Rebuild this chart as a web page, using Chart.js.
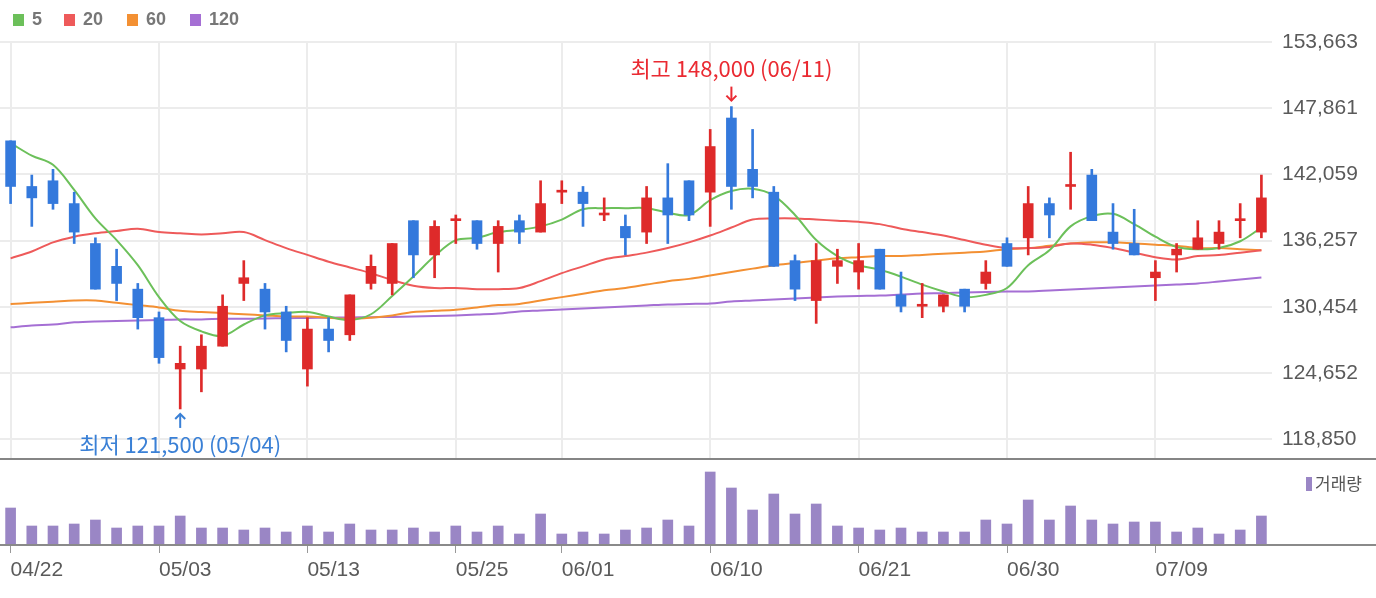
<!DOCTYPE html>
<html>
<head>
<meta charset="utf-8">
<script src="https://cdn.jsdelivr.net/npm/chart.js"></script>
<style>
  html, body { margin: 0; padding: 0; background: #fff; }
  #wrap { position: relative; width: 1376px; height: 598px; overflow: hidden; }
  #price { position: absolute; left: 0; top: 0; }
  #vol { position: absolute; left: 0; top: 460px; }
</style>
</head>
<body>
<div id="wrap">
  <canvas id="price" width="1376" height="460"></canvas>
  <canvas id="vol" width="1376" height="138"></canvas>
</div>
<script>
// trading days (2021)
const dates = ['04/22','04/23','04/26','04/27','04/28','04/29','04/30','05/03','05/04','05/06',
  '05/07','05/10','05/11','05/12','05/13','05/14','05/17','05/18','05/20','05/21',
  '05/24','05/25','05/26','05/27','05/28','05/31','06/01','06/02','06/03','06/04',
  '06/07','06/08','06/09','06/10','06/11','06/14','06/15','06/16','06/17','06/18',
  '06/21','06/22','06/23','06/24','06/25','06/28','06/29','06/30','07/01','07/02',
  '07/05','07/06','07/07','07/08','07/09','07/12','07/13','07/14','07/15','07/16'];

const xTickLabels = ['04/22','05/03','05/13','05/25','06/01','06/10','06/21','06/30','07/09'];
const priceTicks = [118850, 124652, 130454, 136257, 142059, 147861, 153663];

const opens = [145000,141000,141500,139500,136000,134000,132000,129500,125000,125000,
  127000,132500,132000,130000,125000,128500,128000,132500,132500,138000,
  135000,138000,138000,136000,138000,137000,140500,140500,138500,137500,
  137000,140000,141500,140500,147000,142500,140500,134500,131000,134000,
  133500,135500,131500,130500,130500,132000,132500,136000,136500,139500,
  141000,142000,137000,136000,133000,135000,135500,136000,138000,137000];
const highs = [145000,142000,142500,140500,136500,135500,132500,130000,127000,128000,
  131500,134500,132500,130500,129500,129500,131500,135000,136000,138000,
  138000,138500,138000,138000,138500,141500,141500,141000,140000,138500,
  141000,143000,141500,146000,148000,146000,141000,135000,136000,135500,
  136000,135500,133500,132500,131500,132000,134500,136500,141000,140000,
  144000,142500,139500,139000,134500,136000,138000,138000,139500,142000];
const lows = [139500,137500,139000,136000,132000,131000,128500,125500,121500,123000,
  127000,131000,128500,126500,123500,126500,127500,132000,131500,133000,
  133000,136000,135500,133500,136000,137000,139500,137500,138000,135000,
  136000,136000,138000,137500,139000,140000,134000,131000,129000,132500,
  132000,132000,130000,129500,130000,130000,132000,134000,135000,136500,
  139000,138000,135500,135000,131000,133500,135500,135500,136500,136500];
const closes = [141000,140000,139500,137000,132000,132500,129500,126000,125500,127000,
  130500,133000,130000,127500,128500,127500,131500,134000,136000,135000,
  137500,138000,136000,137500,137000,139500,140500,139500,138500,136500,
  140000,138500,138500,144500,141000,141000,134000,132000,134500,134500,
  134500,132000,130500,130500,131500,130500,133500,134000,139500,138500,
  141000,138000,136000,135000,133500,135500,136500,137000,138000,140000];

// moving averages as drawn
const ma5 = [144800,143700,142900,140700,138200,136300,134100,131300,129200,128300,
  127900,128900,129700,129900,130000,129600,129300,129800,131400,133100,
  134900,136300,136500,137000,137200,137500,138100,139000,139100,139100,
  139100,138700,138500,139800,140600,140800,140200,138500,136300,134900,
  134100,133700,133100,132400,131800,131300,131500,132100,134100,135400,
  137500,138400,138600,137700,136600,135700,135500,135600,136200,137400];
const ma20 = [134700,135300,136100,136600,136900,137100,137300,137000,136900,136800,
  136900,137000,136300,135600,135000,134400,133900,133400,132800,132300,
  132100,132100,132000,132000,132100,132700,133400,134000,134600,134900,
  135200,135600,136100,136700,137400,138100,138200,138200,138100,138000,
  137900,137700,137300,137000,136700,136300,135900,135600,135600,135700,
  136000,135900,135600,135200,134800,134600,134900,135000,135200,135400];
const ma60 = [130700,130800,130900,131000,131000,130800,130600,130400,130100,130000,
  129900,129800,129700,129600,129600,129500,129400,129500,129700,130000,
  130100,130200,130400,130600,130700,131000,131300,131600,131900,132100,
  132400,132700,132900,133200,133500,133800,134100,134300,134500,134700,
  134800,134900,134900,135000,135100,135200,135300,135500,135600,135800,
  136000,136100,136100,136000,135900,135800,135600,135600,135500,135400];
const ma120 = [128650,128820,128910,129090,129170,129200,129260,129300,129350,129350,
  129400,129400,129430,129450,129480,129500,129520,129540,129560,129610,
  129650,129700,129780,129870,130050,130130,130220,130310,130400,130480,
  130570,130660,130700,130750,130920,131010,131100,131180,131270,131350,
  131400,131440,131530,131620,131650,131710,131750,131790,131800,131880,
  131970,132060,132150,132230,132320,132410,132500,132670,132850,133020];

// volume, thousand shares
const volumes = [370,190,190,210,250,170,190,190,290,170,
  170,150,170,130,190,130,210,150,150,170,
  130,190,130,190,110,310,110,130,110,150,
  170,250,190,730,570,350,510,310,410,190,
  170,150,170,130,130,130,250,210,450,250,
  390,250,210,230,230,130,170,110,150,290];

const maNames = ['5', '20', '60', '120'];
const maColors = ['#6cc05a', '#ee5a5a', '#f39033', '#a56fd4'];
const UP = '#de2a2a', DOWN = '#3479dc';
const VOL = '#9a86c5';

const tickIdx = xTickLabels.map(d => dates.indexOf(d));
const hiIdx = highs.indexOf(Math.max(...highs));
const loIdx = lows.indexOf(Math.min(...lows));
const fmt = v => Math.round(v).toLocaleString('en-US');
const krFont = '"Noto Sans CJK KR", sans-serif';
const numFont = '"Liberation Sans", Arial, sans-serif';

const candleColor = ctx => closes[ctx.dataIndex] >= opens[ctx.dataIndex] ? UP : DOWN;

function drawArrow(ctx, x, tip, dir) {
  // dir 1 = pointing down, -1 = pointing up
  ctx.beginPath();
  ctx.moveTo(x, tip - dir * 14);
  ctx.lineTo(x, tip);
  ctx.stroke();
  ctx.beginPath();
  ctx.moveTo(x - 5, tip - dir * 5);
  ctx.lineTo(x, tip);
  ctx.lineTo(x + 5, tip - dir * 5);
  ctx.stroke();
}

const priceOverlay = {
  id: 'priceOverlay',
  afterDraw(chart) {
    const ctx = chart.ctx;
    const xs = chart.scales.x, ys = chart.scales.y;
    ctx.save();

    // MA legend
    const legendX = [13, 64, 127, 190];
    ctx.font = 'bold 18px ' + numFont;
    ctx.textBaseline = 'middle';
    ctx.textAlign = 'left';
    maNames.forEach((n, i) => {
      ctx.fillStyle = maColors[i];
      ctx.fillRect(legendX[i], 14, 11, 12);
      ctx.fillStyle = '#777';
      ctx.fillText(n, legendX[i] + 19, 20);
    });

    // high / low marks
    ctx.lineWidth = 2;
    ctx.textAlign = 'center';
    ctx.font = '22px ' + krFont;

    const hx = xs.getPixelForValue(hiIdx), hy = ys.getPixelForValue(highs[hiIdx]);
    ctx.strokeStyle = ctx.fillStyle = '#ea2a32';
    drawArrow(ctx, hx, hy - 6, 1);
    ctx.fillText('최고 ' + fmt(highs[hiIdx]) + ' (' + dates[hiIdx] + ')', hx, hy - 38);

    const lx = xs.getPixelForValue(loIdx), ly = ys.getPixelForValue(lows[loIdx]);
    ctx.strokeStyle = ctx.fillStyle = '#3a80d6';
    drawArrow(ctx, lx, ly + 5, -1);
    ctx.fillText('최저 ' + fmt(lows[loIdx]) + ' (' + dates[loIdx] + ')', lx, ly + 36);

    // separator under price panel
    ctx.fillStyle = '#858585';
    ctx.fillRect(0, chart.chartArea.bottom, chart.width, 2);
    ctx.restore();
  }
};

const volOverlay = {
  id: 'volOverlay',
  afterDraw(chart) {
    const ctx = chart.ctx;
    ctx.save();
    ctx.fillStyle = '#8a8a8a';
    ctx.fillRect(0, chart.chartArea.bottom - 1, chart.width, 2);
    ctx.fillStyle = VOL;
    ctx.fillRect(1306, 17, 6, 14);
    ctx.fillStyle = '#555';
    ctx.font = '17px ' + krFont;
    ctx.textBaseline = 'middle';
    ctx.fillText('거래량', 1315, 24);
    ctx.restore();
  }
};

const lineDs = (data, i) => ({
  type: 'line',
  label: maNames[i],
  data: data,
  borderColor: maColors[i],
  borderWidth: 2,
  pointRadius: 0,
  tension: 0.35,
  order: 2 + i
});

new Chart(document.getElementById('price'), {
  type: 'bar',
  data: {
    labels: dates,
    datasets: [
      {
        label: 'body',
        data: opens.map((o, i) => [o, closes[i]]),
        backgroundColor: candleColor,
        barThickness: 10,
        minBarLength: 2,
        grouped: false,
        order: 0
      },
      {
        label: 'wick',
        data: lows.map((l, i) => [l, highs[i]]),
        backgroundColor: candleColor,
        barThickness: 2,
        grouped: false,
        order: 1
      },
      lineDs(ma5, 0), lineDs(ma20, 1), lineDs(ma60, 2), lineDs(ma120, 3)
    ]
  },
  options: {
    responsive: false,
    animation: false,
    events: [],
    layout: { padding: { top: 42, bottom: 2, left: 0, right: 0 } },
    plugins: { legend: { display: false }, tooltip: { enabled: false } },
    scales: {
      x: {
        type: 'category',
        offset: true,
        grid: {
          offset: false,
          drawTicks: false,
          lineWidth: 2,
          color: ctx => tickIdx.includes(ctx.index) ? '#ececec' : 'rgba(0,0,0,0)'
        },
        border: { display: false },
        ticks: { display: false },
        afterFit: s => { s.height = 0; s.paddingLeft = 0; s.paddingRight = 0; }
      },
      y: {
        position: 'right',
        min: 117200,
        max: 153663,
        afterBuildTicks: s => { s.ticks = priceTicks.map(v => ({ value: v })); },
        grid: { drawTicks: false, lineWidth: 2, color: '#ececec' },
        border: { display: false },
        ticks: {
          padding: 10,
          color: '#5a5a5a',
          font: { family: numFont, size: 21 },
          callback: v => fmt(v)
        },
        afterFit: s => { s.width = 104; s.paddingTop = 0; s.paddingBottom = 0; }
      }
    }
  },
  plugins: [priceOverlay]
});

new Chart(document.getElementById('vol'), {
  type: 'bar',
  data: {
    labels: dates,
    datasets: [{
      label: '거래량',
      data: volumes,
      backgroundColor: VOL,
      barThickness: 10
    }]
  },
  options: {
    responsive: false,
    animation: false,
    events: [],
    layout: { padding: { top: 0, bottom: 0, left: 0, right: 104 } },
    plugins: { legend: { display: false }, tooltip: { enabled: false } },
    scales: {
      x: {
        type: 'category',
        offset: true,
        grid: {
          offset: false,
          drawOnChartArea: false,
          tickLength: 8,
          color: ctx => tickIdx.includes(ctx.index) ? '#999' : 'rgba(0,0,0,0)'
        },
        border: { display: false },
        ticks: {
          autoSkip: false,
          maxRotation: 0,
          align: 'start',
          padding: 5,
          color: '#5a5a5a',
          font: { family: numFont, size: 21 },
          callback: (v, i) => tickIdx.includes(i) ? dates[i] : ''
        },
        afterFit: s => { s.height = 53; s.paddingLeft = 0; s.paddingRight = 0; }
      },
      y: { display: false, min: 0, max: 850 }
    }
  },
  plugins: [volOverlay]
});
</script>
</body>
</html>
